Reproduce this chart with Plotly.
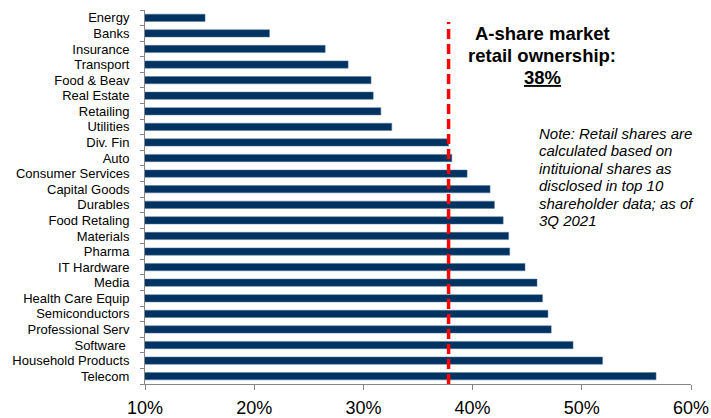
import plotly.graph_objects as go

categories = ["Energy", "Banks", "Insurance", "Transport", "Food & Beav", "Real Estate",
              "Retailing", "Utilities", "Div. Fin", "Auto", "Consumer Services",
              "Capital Goods", "Durables", "Food Retaling", "Materials", "Pharma",
              "IT Hardware", "Media", "Health Care Equip", "Semiconductors",
              "Professional Serv", "Software ", "Household Products", "Telecom"]
retail_share = [15.5, 21.4, 26.5, 28.6, 30.7, 30.9, 31.6, 32.6, 37.8, 38.1, 39.5,
                41.6, 42.0, 42.8, 43.3, 43.4, 44.8, 45.9, 46.4, 46.9, 47.2, 49.2,
                51.9, 56.8]
market_retail = 37.8
x_ticks = [10, 20, 30, 40, 50, 60]
x_tick_labels = ["10%", "20%", "30%", "40%", "50%", "60%"]
title_lines = ["<b>A-share market</b>", "<b>retail ownership:</b>", "<b><u>38%</u></b>"]
note_lines = ["Note: Retail shares are", "calculated based on", "intituional shares as",
              "disclosed in top 10", "shareholder data; as of", "3Q 2021"]

W, H = 711, 418
ML, MR, MT, MB = 145, 20, 10, 34
PW, PH = W - ML - MR, H - MT - MB


def px_x(x):
    return (x - ML) / PW


def px_y(y):
    return (H - MB - y) / PH


fig = go.Figure()
fig.add_trace(go.Bar(
    y=categories, x=retail_share, orientation="h",
    base=0,
    marker=dict(color="#003361", line=dict(color="#5a7a9a", width=0.5)),
    width=0.47,
))

fig.add_shape(type="line", xref="x", yref="paper",
              x0=market_retail, x1=market_retail, y0=0, y1=px_y(22),
              line=dict(color="#ff0000", width=3.5, dash="10px,5px"))

for i, t in enumerate(title_lines):
    fig.add_annotation(xref="paper", yref="paper", x=px_x(542), y=px_y(33 + 22.5 * i),
                       xanchor="center", yanchor="middle", showarrow=False, text=t,
                       font=dict(family="Liberation Sans, Arial", size=18.5, color="#000000"))

for i, t in enumerate(note_lines):
    fig.add_annotation(xref="paper", yref="paper", x=px_x(537), y=px_y(133 + 17.5 * i),
                       xanchor="left", yanchor="middle", showarrow=False,
                       text="<i>" + t + "</i>",
                       font=dict(family="Liberation Sans, Arial", size=15, color="#000000"))

fig.update_layout(
    width=W, height=H,
    margin=dict(l=ML, r=MR, t=MT, b=MB),
    paper_bgcolor="white", plot_bgcolor="white",
    showlegend=False,
    font=dict(family="Liberation Sans, Arial", color="#000000"),
    xaxis=dict(range=[10, 60], tickvals=x_ticks, ticktext=x_tick_labels, automargin=False,
               showgrid=False, zeroline=False, showline=True, linecolor="#868686",
               linewidth=1, ticks="outside", ticklen=5, tickcolor="#868686",
               tickfont=dict(size=18), ticklabelstandoff=2),
    yaxis=dict(autorange="reversed", showgrid=False, zeroline=False, showline=True,
               automargin=False, tickmode="array", tickvals=categories,
               linecolor="#868686", linewidth=1, ticks="outside", ticklen=4,
               tickcolor="#868686", tickson="boundaries", tickfont=dict(size=13),
               ticklabelstandoff=12),
)

fig.write_html("out.html")
